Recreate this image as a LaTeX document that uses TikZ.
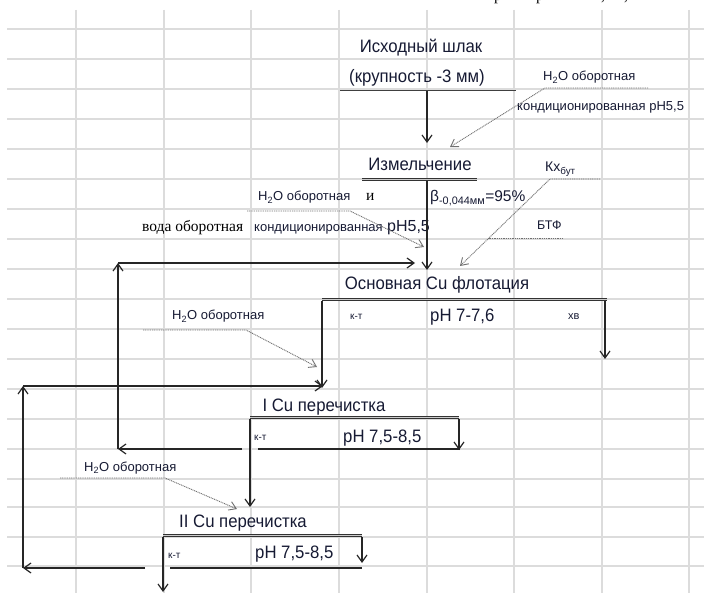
\documentclass[tikz,border=0pt]{standalone}
\usepackage{fontspec}
\setmainfont{Liberation Sans}
\newfontfamily\serifrm{Liberation Serif}
\newfontfamily\narrowsans[FakeStretch=0.93]{Liberation Sans}
\usetikzlibrary{arrows.meta}
\definecolor{gridc}{HTML}{DCDCDC}
\definecolor{txtc}{HTML}{161A33}
\definecolor{dotc}{HTML}{707070}
\newcommand{\fs}[1]{\fontsize{#1}{#1}\selectfont}
\tikzset{
  flow/.style={line width=1.3pt, black!85, -{Straight Barb[length=7pt,width=10pt,line width=1.2pt]}},
  plain/.style={line width=1.3pt, black!85},
  dbl/.style={double=gray!40, double distance=1.1pt, line width=1.1pt, draw=black!80},
  dotarr/.style={line width=0.9pt, dotc, dash pattern=on 1pt off 0.8pt, -{Straight Barb[length=7pt,width=9pt,line width=0.9pt]}},
  dotln/.style={line width=0.9pt, dotc, dash pattern=on 1pt off 0.8pt},
  big/.style={inner sep=0pt, text=txtc, font=\narrowsans\fs{18}},
  mid/.style={inner sep=0pt, text=txtc, font=\fs{13}},
  small/.style={inner sep=0pt, text=txtc, font=\fs{10}},
  ser/.style={inner sep=0pt, text=black, font=\serifrm\fs{15.5}},
}
\begin{document}
\begin{tikzpicture}[x=1pt,y=-1pt]
\useasboundingbox (0,0) rectangle (704,593);
\clip (0,0) rectangle (704,593);
% grid
\foreach \gx in {76,164,251,339,427,514,602,689}
  \draw[gridc, line width=1.4pt] (\gx,10) -- (\gx,593);
\foreach \gy in {29,59,89,119,149,179,209,239,269,299,329,359,389,419,449,479,507,537,566}
  \draw[gridc, line width=1.4pt] (7,\gy) -- (704,\gy);
% cut-off text at top (only the descenders lie inside the picture)
\node[ser, anchor=base] (topa) at (498,1) {р};
\node[ser, anchor=base] (topb) at (540,1) {р};
\node[ser, anchor=base] (topc) at (603,1) {,};
\node[ser, anchor=base] (topd) at (626,1) {,};

% --- texts
\node[big, anchor=base] (src1) at (421,53) {Исходный шлак};
\node[big, anchor=base] (src2) at (417,83) {(крупность -3 мм)};
\node[mid, anchor=base west] (h2oa) at (543,81) {H\textsubscript{2}O оборотная};
\node[mid, anchor=base west] (conda) at (517,111) {кондиционированная рН5,5};
\node[big, anchor=base] (mill) at (420,171) {Измельчение};
\node[mid, anchor=base west, font=\fs{15.5}] (beta) at (430,202) {β\textsubscript{-0,044мм}=95\%};
\node[mid, anchor=base west, font=\fs{14}] (kx) at (545,172) {Кх\textsubscript{бут}};
\node[mid, anchor=base west, font=\fs{12.5}] (btf) at (537,230) {БТФ};
\node[mid, anchor=base west] (h2ob) at (258,201) {H\textsubscript{2}O оборотная};
\node[ser, anchor=base west] (andw) at (366,201) {и};
\node[ser, anchor=base west] (voda) at (142,232) {вода оборотная};
\node[mid, anchor=base west] (condb) at (254,232) {кондиционированная\fs{16} рН5,5};
\node[big, anchor=base] (flot) at (437,290) {Основная Cu флотация};
\node[small, anchor=base west] (kta) at (350,320) {к-т};
\node[big, anchor=base west] (pha) at (430,322) {рН 7-7,6};
\node[small, anchor=base west, font=\fs{11}] (xv) at (568,320) {хв};
\node[mid, anchor=base west] (h2oc) at (172,320) {H\textsubscript{2}O оборотная};
\node[big, anchor=base] (cla) at (324,411) {I Cu перечистка};
\node[small, anchor=base west] (ktb) at (254,440) {к-т};
\node[big, anchor=base west] (phb) at (343,442) {рН 7,5-8,5};
\node[mid, anchor=base west] (h2od) at (84,471) {H\textsubscript{2}O оборотная};
\node[big, anchor=base] (clb) at (243,527) {II Cu перечистка};
\node[small, anchor=base west] (ktc) at (168,558) {к-т};
\node[big, anchor=base west] (phc) at (255,558) {рН 7,5-8,5};

% --- coordinates
\coordinate (ulL) at (340,90.5);  \coordinate (ulR) at (516,90.5);
\coordinate (a1s) at (427,91);    \coordinate (a1e) at (427,143);
\coordinate (d1a) at (648,88);    \coordinate (d1b) at (545,88);   \coordinate (d1e) at (450,147);
\coordinate (mL) at (362,179.5);  \coordinate (mR) at (477,179.5);
\coordinate (a2s) at (427,181);   \coordinate (a2e) at (427,270);
\coordinate (d2a) at (600,179);   \coordinate (d2b) at (550,179);  \coordinate (d2e) at (460,266);
\coordinate (d3a) at (563,238);   \coordinate (d3b) at (489,238);
\coordinate (d4a) at (247,211);   \coordinate (d4b) at (350,211);  \coordinate (d4e) at (424,247);
\coordinate (l1a) at (242,449);   \coordinate (l1b) at (118,449);
\coordinate (l1c) at (118,263);   \coordinate (l1d) at (415,263);
\coordinate (fL) at (322,299.5);  \coordinate (fR) at (607,299.5);
\coordinate (fks) at (322,301);   \coordinate (fke) at (322,388);
\coordinate (fxs) at (605,301);   \coordinate (fxe) at (605,359);
\coordinate (d5a) at (143,330);   \coordinate (d5b) at (246,330);  \coordinate (d5e) at (317,367);
\coordinate (l2a) at (145,568);   \coordinate (l2b) at (23,568);
\coordinate (l2c) at (23,386);    \coordinate (l2d) at (323,386);
\coordinate (c1L) at (250,417.5); \coordinate (c1R) at (459,417.5);
\coordinate (c1ks) at (250,419);  \coordinate (c1ke) at (250,507);
\coordinate (c1xs) at (459,419);  \coordinate (c1xe) at (459,450);
\coordinate (c1la) at (258,449);  \coordinate (c1lb) at (460,449);
\coordinate (d6a) at (60,478);    \coordinate (d6b) at (165,478);  \coordinate (d6e) at (237,509);
\coordinate (c2L) at (163,535.5); \coordinate (c2R) at (362,535.5);
\coordinate (c2ks) at (163,537);  \coordinate (c2ke) at (163,592);
\coordinate (c2xs) at (362,537);  \coordinate (c2xe) at (362,563);
\coordinate (c2la) at (170,568);  \coordinate (c2lb) at (362,568);

% --- lines
\draw[line width=1.8pt, black!75] (ulL) -- (ulR);
\draw[flow] (a1s) -- (a1e);
\draw[dotarr] (d1a) -- (d1b) -- (d1e);
\draw[dbl] (mL) -- (mR);
\draw[flow] (a2s) -- (a2e);
\draw[dotarr] (d2a) -- (d2b) -- (d2e);
\draw[dotln] (d3a) -- (d3b);
\draw[dotarr] (d4a) -- (d4b) -- (d4e);
\draw[flow] (l1a) -- (l1b);
\draw[flow] (l1b) -- (l1c);
\draw[flow] (l1c) -- (l1d);
\draw[dbl] (fL) -- (fR);
\draw[flow] (fks) -- (fke);
\draw[flow] (fxs) -- (fxe);
\draw[dotarr] (d5a) -- (d5b) -- (d5e);
\draw[flow] (l2a) -- (l2b);
\draw[flow] (l2b) -- (l2c);
\draw[flow] (l2c) -- (l2d);
\draw[dbl] (c1L) -- (c1R);
\draw[flow] (c1ks) -- (c1ke);
\draw[flow] (c1xs) -- (c1xe);
\draw[plain] (c1la) -- (c1lb);
\draw[dotarr] (d6a) -- (d6b) -- (d6e);
\draw[dbl] (c2L) -- (c2R);
\draw[flow] (c2ks) -- (c2ke);
\draw[flow] (c2xs) -- (c2xe);
\draw[plain] (c2la) -- (c2lb);
\end{tikzpicture}
\end{document}
